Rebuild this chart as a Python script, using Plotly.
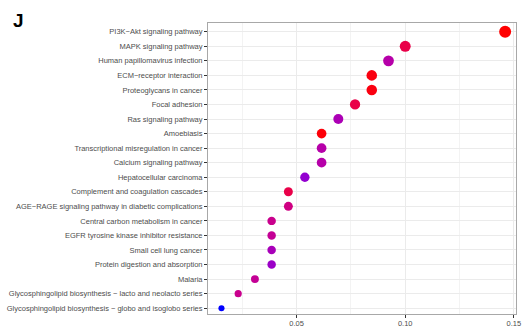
import math
import plotly.graph_objects as go

pathways = [
    "PI3K−Akt signaling pathway",
    "MAPK signaling pathway",
    "Human papillomavirus infection",
    "ECM−receptor interaction",
    "Proteoglycans in cancer",
    "Focal adhesion",
    "Ras signaling pathway",
    "Amoebiasis",
    "Transcriptional misregulation in cancer",
    "Calcium signaling pathway",
    "Hepatocellular carcinoma",
    "Complement and coagulation cascades",
    "AGE−RAGE signaling pathway in diabetic complications",
    "Central carbon metabolism in cancer",
    "EGFR tyrosine kinase inhibitor resistance",
    "Small cell lung cancer",
    "Protein digestion and absorption",
    "Malaria",
    "Glycosphingolipid biosynthesis − lacto and neolacto series",
    "Glycosphingolipid biosynthesis − globo and isoglobo series",
]
gene_ratio = [0.146, 0.100, 0.0923, 0.0846, 0.0846, 0.0769, 0.0692, 0.0615, 0.0615, 0.0615,
              0.0538, 0.0462, 0.0462, 0.0385, 0.0385, 0.0385, 0.0385, 0.0308, 0.0231, 0.0154]
counts = [19, 13, 12, 11, 11, 10, 9, 8, 8, 8, 7, 6, 6, 5, 5, 5, 5, 4, 3, 2]
p_adjust = [0.0010, 0.0100, 0.0265, 0.0030, 0.0030, 0.0100, 0.0290, 0.0020, 0.0265, 0.0265,
            0.0350, 0.0100, 0.0190, 0.0210, 0.0225, 0.0300, 0.0330, 0.0225, 0.0210, 0.0480]
x_ticks = [0.05, 0.10, 0.15]
x_tick_labels = ["0.05", "0.10", "0.15"]
x_title = "GeneRatio"

# size mapping (style)
sizes = [4.3 + 2.6 * math.log(c) for c in counts]

colorscale = [[0.0, "#FF0000"], [0.25, "#E2005F"], [0.5, "#BE00A0"], [0.75, "#8E00D6"], [1.0, "#0000FF"]]

fig = go.Figure(go.Scatter(
    x=gene_ratio, y=pathways, mode="markers",
    marker=dict(size=sizes, color=p_adjust, colorscale=colorscale, cmin=0.001, cmax=0.048,
                showscale=False, line=dict(width=0), opacity=1),
    hoverinfo="skip",
))

L, R, T, B = 208, 9, 23, 15
pw, ph = 525 - L - R, 329 - T - B

fig.update_layout(
    width=525, height=329,
    margin=dict(l=L, r=R, t=T, b=B),
    paper_bgcolor="white", plot_bgcolor="white",
    showlegend=False,
    font=dict(family="Liberation Sans, Arial, sans-serif", color="#4D4D4D"),
    annotations=[
        dict(text="<b>J</b>", xref="paper", yref="paper",
             x=(11 - L) / pw, y=1 + (T - 8) / ph,
             xanchor="left", yanchor="top", showarrow=False,
             font=dict(size=19, color="black")),
        dict(text=x_title, xref="paper", yref="paper",
             x=0.5, y=(329 - B - 326) / ph,
             xanchor="center", yanchor="top", showarrow=False,
             font=dict(size=9, color="black")),
    ],
)

fig.update_xaxes(
    range=[0.0092, 0.1510], tickvals=x_ticks, ticktext=x_tick_labels,
    showgrid=True, gridcolor="#EBEBEB", gridwidth=0.7,
    minor=dict(dtick=0.025, tick0=0, showgrid=True, gridcolor="#F3F3F3", gridwidth=0.5, ticks=""),
    ticks="outside", ticklen=3, tickcolor="#333333", tickwidth=0.7,
    ticklabelstandoff=-1,
    tickfont=dict(size=7.5, color="#4D4D4D"),
    showline=True, linecolor="#A8A8A8", linewidth=1, mirror=True,
    zeroline=False, automargin=False,
)
fig.update_yaxes(
    type="category", categoryorder="array", categoryarray=pathways[::-1],
    range=[-0.4, 19.6],
    showgrid=True, gridcolor="#EBEBEB", gridwidth=0.7,
    ticks="outside", ticklen=3, tickcolor="#333333", tickwidth=0.7,
    tickfont=dict(size=7.5, color="#4D4D4D"),
    showline=True, linecolor="#A8A8A8", linewidth=1, mirror=True,
    zeroline=False, automargin=False,
)

fig.write_html("out.html")
